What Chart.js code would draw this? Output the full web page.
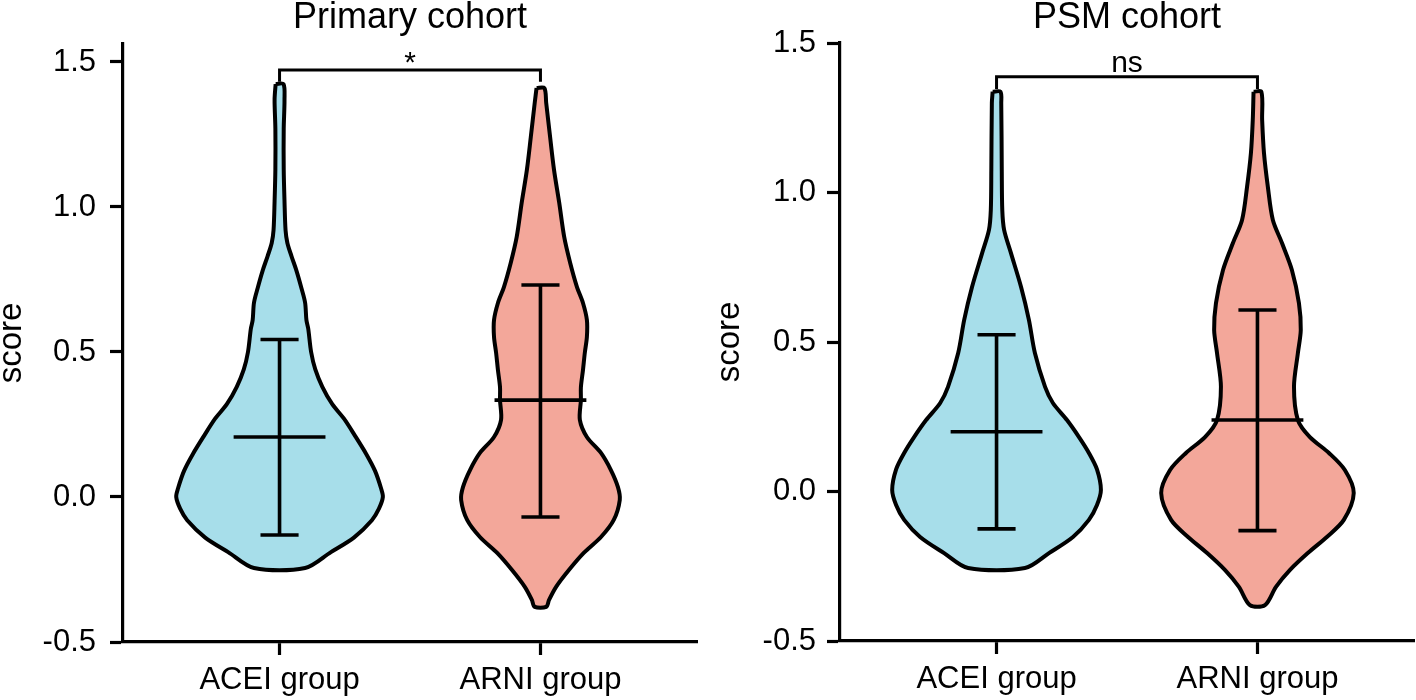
<!DOCTYPE html>
<html>
<head>
<meta charset="utf-8">
<script src="https://cdn.jsdelivr.net/npm/chart.js@4/dist/chart.umd.min.js"></script>
<style>
  body { margin: 0; background: #fff; }
  canvas { position: absolute; top: 0; }
  #primary { left: 0; }
  #psm { left: 708px; }
</style>
</head>
<body>
<canvas id="primary" width="708" height="700"></canvas>
<canvas id="psm" width="708" height="700"></canvas>
<script>
const categories = ['ACEI group', 'ARNI group'];
const yTickValues = [-0.5, 0, 0.5, 1.0, 1.5];

// violin outlines: score levels (top -> bottom) and half width in x units
const primaryAceiScore = [1.424, 1.37, 1.27, 1.13, 1.02, 0.92, 0.876, 0.83, 0.78, 0.72, 0.67, 0.61, 0.58, 0.50, 0.44, 0.38, 0.32, 0.27, 0.21, 0.15, 0.09, 0.03, 0.0, -0.04, -0.08, -0.14, -0.19, -0.245];
const primaryAceiWidth = [0.015, 0.019, 0.016, 0.016, 0.019, 0.023, 0.030, 0.046, 0.065, 0.084, 0.098, 0.103, 0.110, 0.121, 0.137, 0.164, 0.202, 0.247, 0.290, 0.331, 0.366, 0.389, 0.396, 0.381, 0.354, 0.285, 0.197, 0.098];
const primaryArniScore = [1.41, 1.359, 1.241, 1.128, 1.014, 0.897, 0.807, 0.724, 0.669, 0.61, 0.552, 0.497, 0.438, 0.379, 0.334, 0.266, 0.207, 0.152, 0.093, 0.034, -0.01, -0.079, -0.138, -0.193, -0.252, -0.31, -0.355, -0.379];
const primaryArniWidth = [0.015, 0.022, 0.037, 0.052, 0.072, 0.091, 0.114, 0.140, 0.163, 0.178, 0.178, 0.170, 0.163, 0.155, 0.155, 0.151, 0.178, 0.232, 0.270, 0.297, 0.304, 0.281, 0.232, 0.166, 0.109, 0.060, 0.033, 0.022];

const psmAceiScore = [1.337, 1.299, 1.075, 0.941, 0.875, 0.798, 0.684, 0.574, 0.463, 0.35, 0.296, 0.239, 0.182, 0.129, 0.074, 0.005, -0.045, -0.095, -0.152, -0.206, -0.256];
const psmAceiWidth = [0.015, 0.018, 0.020, 0.022, 0.029, 0.055, 0.094, 0.124, 0.147, 0.186, 0.216, 0.270, 0.316, 0.354, 0.385, 0.400, 0.385, 0.354, 0.293, 0.201, 0.109];
const psmArniScore = [1.337, 1.242, 1.132, 1.018, 0.908, 0.831, 0.741, 0.63, 0.54, 0.463, 0.35, 0.239, 0.182, 0.129, 0.072, -0.005, -0.095, -0.152, -0.206, -0.263, -0.319, -0.38];
const psmArniWidth = [0.015, 0.018, 0.025, 0.040, 0.059, 0.094, 0.132, 0.159, 0.166, 0.155, 0.140, 0.155, 0.201, 0.274, 0.335, 0.369, 0.331, 0.266, 0.193, 0.124, 0.071, 0.029];

// mean and mean +/- SD
const primaryMean = [0.207, 0.334];
const primaryUpper = [0.543, 0.731];
const primaryLower = [-0.131, -0.069];
const psmMean = [0.200, 0.239];
const psmUpper = [0.524, 0.607];
const psmLower = [-0.125, -0.131];

// significance brackets
const primaryBracket = [1.432, 1.472];
const psmBracket = [1.346, 1.387];
const primarySig = '*';
const psmSig = 'ns';

const FONT = '"Liberation Sans", Arial, Helvetica, sans-serif';
const FILLS = ['#a7deea', '#f3a79a'];
const MEAN_HALF = 0.176;
const CAP_HALF = 0.073;

function violin(center, scores, widths, color) {
  const left = scores.map((s, i) => ({x: center - widths[i], y: s}));
  const right = scores.map((s, i) => ({x: center + widths[i], y: s})).reverse();
  return {
    data: left.concat(right, [left[0]]),
    showLine: true,
    fill: 'shape',
    backgroundColor: color,
    borderColor: '#000',
    borderWidth: 4,
    borderJoinStyle: 'round',
    tension: 0.3,
    pointRadius: 0
  };
}

function seg(points, width) {
  return {
    data: points,
    showLine: true,
    fill: false,
    borderColor: '#000',
    borderWidth: width || 3.6,
    tension: 0,
    pointRadius: 0
  };
}

const sigLabel = {
  id: 'sigLabel',
  afterDatasetsDraw(chart, args, o) {
    const {ctx, scales} = chart;
    ctx.save();
    ctx.font = '30px ' + FONT;
    ctx.fillStyle = '#000';
    ctx.textAlign = 'center';
    ctx.textBaseline = 'alphabetic';
    ctx.fillText(o.text, scales.x.getPixelForValue(1.5), scales.y.getPixelForValue(o.value) + o.dy);
    ctx.restore();
  }
};

function panel(id, p) {
  const datasets = [];
  [0, 1].forEach(i => {
    const c = i + 1;
    datasets.push(seg([{x: c, y: p.lower[i]}, {x: c, y: p.upper[i]}]));
    datasets.push(seg([{x: c - CAP_HALF, y: p.upper[i]}, {x: c + CAP_HALF, y: p.upper[i]}]));
    datasets.push(seg([{x: c - CAP_HALF, y: p.lower[i]}, {x: c + CAP_HALF, y: p.lower[i]}]));
    datasets.push(seg([{x: c - MEAN_HALF, y: p.mean[i]}, {x: c + MEAN_HALF, y: p.mean[i]}]));
  });
  datasets.push(seg([{x: 1, y: p.bracket[0]}, {x: 1, y: p.bracket[1]}, {x: 2, y: p.bracket[1]}, {x: 2, y: p.bracket[0]}], 3));
  p.violins.forEach((v, i) => datasets.push(violin(i + 1, v[0], v[1], FILLS[i])));

  new Chart(document.getElementById(id), {
    type: 'scatter',
    data: {datasets},
    plugins: [sigLabel],
    options: {
      responsive: false,
      animation: false,
      layout: {padding: {right: p.padRight}},
      plugins: {
        legend: {display: false},
        tooltip: {enabled: false},
        title: {
          display: true,
          text: p.title,
          fullSize: false,
          color: '#000',
          font: {family: FONT, size: 36, weight: 'normal', lineHeight: 1},
          padding: {top: 0, bottom: p.titleGap}
        },
        sigLabel: {text: p.sig, value: p.bracket[1], dy: p.sigDy}
      },
      scales: {
        x: {
          type: 'linear',
          min: 0.4,
          max: 2.6,
          afterBuildTicks: s => { s.ticks = [{value: 1}, {value: 2}]; },
          afterFit: s => { s.height = p.xHeight; },
          grid: {display: true, drawOnChartArea: false, drawTicks: true, tickLength: 13, tickColor: '#000', tickWidth: 3.2},
          border: {display: true, color: '#000', width: 3.2},
          ticks: {
            color: '#000',
            padding: 7,
            font: {family: FONT, size: 31},
            callback: v => categories[v - 1]
          }
        },
        y: {
          type: 'linear',
          min: -0.5,
          max: p.yMax,
          afterBuildTicks: s => { s.ticks = yTickValues.map(v => ({value: v})); },
          afterFit: s => { s.width = p.yWidth; },
          grid: {display: true, drawOnChartArea: false, drawTicks: true, tickLength: 13, tickColor: '#000', tickWidth: 3.2},
          border: {display: true, color: '#000', width: 3.2},
          title: {
            display: true,
            text: 'score',
            color: '#000',
            font: {family: FONT, size: 33, lineHeight: 0.7},
            padding: {top: p.yTitlePad, bottom: 0}
          },
          ticks: {
            color: '#000',
            padding: p.yTickPad,
            font: {family: FONT, size: 31},
            callback: v => v.toFixed(1)
          }
        }
      }
    }
  });
}

panel('primary', {
  title: 'Primary cohort',
  violins: [[primaryAceiScore, primaryAceiWidth], [primaryArniScore, primaryArniWidth]],
  mean: primaryMean, upper: primaryUpper, lower: primaryLower,
  bracket: primaryBracket, sig: primarySig, sigDy: 2,
  yMax: 1.562, yWidth: 123, padRight: 11, xHeight: 58, titleGap: 8, yTitlePad: 0, yTickPad: 14
});

panel('psm', {
  title: 'PSM cohort',
  violins: [[psmAceiScore, psmAceiWidth], [psmArniScore, psmArniWidth]],
  mean: psmMean, upper: psmUpper, lower: psmLower,
  bracket: psmBracket, sig: psmSig, sigDy: -5,
  yMax: 1.5, yWidth: 132, padRight: 2, xHeight: 59, titleGap: 7, yTitlePad: 10, yTickPad: 11
});
</script>
</body>
</html>
